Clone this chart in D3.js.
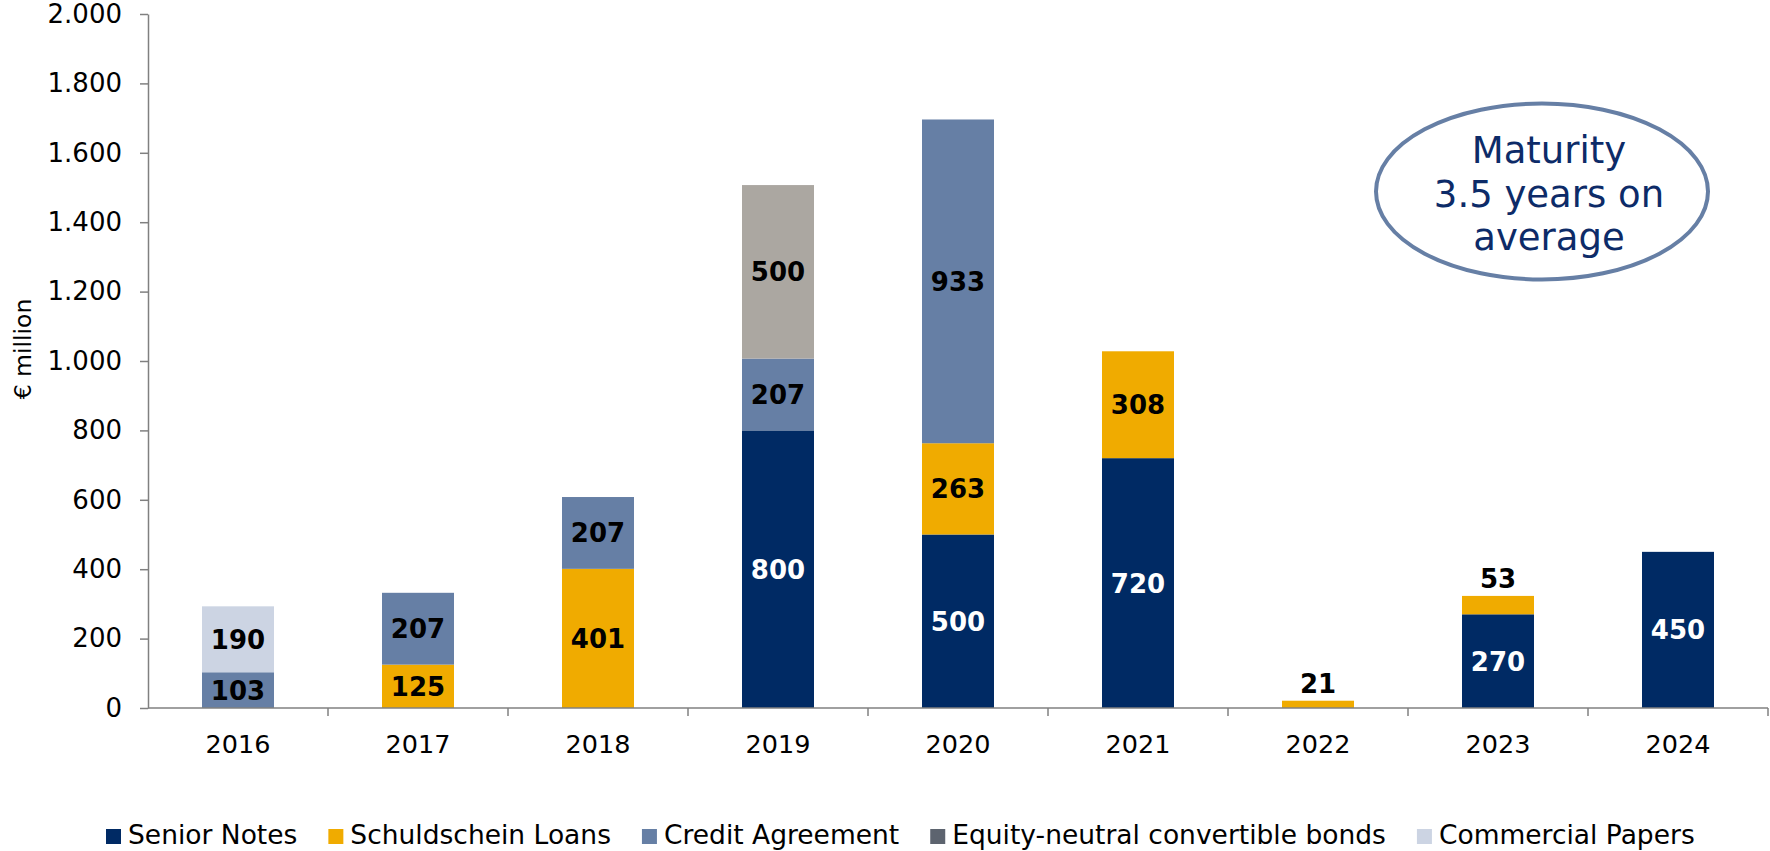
<!DOCTYPE html>
<html>
<head>
<meta charset="utf-8">
<script src="https://cdn.jsdelivr.net/npm/d3@7"></script>
<style>
  html, body { margin: 0; padding: 0; background: #fff; }
  svg { display: block; }
  text { font-family: "DejaVu Sans", Verdana, sans-serif; }
</style>
</head>
<body>
<svg id="chart" width="1770" height="851"></svg>
<script>
// Maturity profile, € million
const years = ["2016", "2017", "2018", "2019", "2020", "2021", "2022", "2023", "2024"];
const seriesNames = ["Senior Notes", "Schuldschein Loans", "Credit Agreement",
                     "Equity-neutral convertible bonds", "Commercial Papers"];
const seniorNotes      = [0,   0,   0,   800, 500, 720, 0,  270, 450];
const schuldschein     = [0,   125, 401, 0,   263, 308, 21, 53,  0];
const creditAgreement  = [103, 207, 207, 207, 933, 0,   0,  0,   0];
const convertibleBonds = [0,   0,   0,   500, 0,   0,   0,  0,   0];
const commercialPapers = [190, 0,   0,   0,   0,   0,   0,  0,   0];
const yTicks = [0, 200, 400, 600, 800, 1000, 1200, 1400, 1600, 1800, 2000];

const barColors    = ["#002a64", "#f0ab00", "#667fa5", "#aba7a1", "#ccd4e3"];
const legendColors = ["#002a64", "#f0ab00", "#667fa5", "#5d646f", "#ccd4e3"];
const labelColors  = ["#ffffff", "#000000", "#000000", "#000000", "#000000"];

const seriesValues = [seniorNotes, schuldschein, creditAgreement, convertibleBonds, commercialPapers];
const keys = seriesNames;
const rows = years.map((yr, i) => {
  const r = { year: yr };
  keys.forEach((k, s) => { r[k] = seriesValues[s][i]; });
  return r;
});

const svg = d3.select("#chart");
const plotLeft = 148, plotRight = 1768, plotTop = 14, plotBottom = 708;

const x = d3.scaleBand().domain(years).range([plotLeft, plotRight]).paddingInner(0.6).paddingOuter(0.3);
const y = d3.scaleLinear().domain([0, 2000]).range([plotBottom, plotTop]);

const stacked = d3.stack().keys(keys)(rows);

// Bars
const g = svg.append("g");
stacked.forEach((layer, s) => {
  g.selectAll(null)
    .data(layer.filter(d => d[1] - d[0] > 0))
    .join("rect")
    .attr("x", d => x(d.data.year))
    .attr("width", x.bandwidth())
    .attr("y", d => y(d[1]))
    .attr("height", d => y(d[0]) - y(d[1]))
    .attr("fill", barColors[s]);
});

// Value labels: centred in the segment, or just above it when the segment is thin
stacked.forEach((layer, s) => {
  g.selectAll(null)
    .data(layer.filter(d => d[1] - d[0] > 0))
    .join("text")
    .attr("x", d => x(d.data.year) + x.bandwidth() / 2)
    .attr("y", d => {
      const h = y(d[0]) - y(d[1]);
      return h < 30 ? y(d[1]) - 8 : (y(d[0]) + y(d[1])) / 2 + 9.5;
    })
    .attr("text-anchor", "middle")
    .attr("font-size", 26)
    .attr("font-weight", "bold")
    .attr("fill", d => (y(d[0]) - y(d[1]) < 30 ? "#000000" : labelColors[s]))
    .text(d => d[1] - d[0]);
});

// Y axis
const fmt = d3.formatLocale({ decimal: ",", thousands: ".", grouping: [3], currency: ["€", ""] }).format(",d");
const yAxis = svg.append("g")
  .attr("transform", `translate(${plotLeft},0)`)
  .call(d3.axisLeft(y).tickValues(yTicks).tickSize(8).tickSizeOuter(0).tickPadding(18).tickFormat(fmt));
yAxis.select(".domain").attr("stroke", "#808080").attr("stroke-width", 1.5);
yAxis.selectAll(".tick line").attr("stroke", "#808080").attr("stroke-width", 1.5);
yAxis.selectAll(".tick text")
  .attr("font-family", "'DejaVu Sans', Verdana, sans-serif")
  .attr("font-size", 26)
  .attr("fill", "#000");

// X axis: baseline, ticks between the categories, year labels
const xAxis = svg.append("g").attr("transform", `translate(0,${plotBottom})`);
xAxis.append("line")
  .attr("x1", plotLeft).attr("x2", plotRight).attr("y1", 0).attr("y2", 0)
  .attr("stroke", "#808080").attr("stroke-width", 1.5);
const gapHalf = (x.step() - x.bandwidth()) / 2;
xAxis.selectAll(".xtick")
  .data(years)
  .join("line")
  .attr("x1", d => x(d) + x.bandwidth() + gapHalf)
  .attr("x2", d => x(d) + x.bandwidth() + gapHalf)
  .attr("y1", 0).attr("y2", 8)
  .attr("stroke", "#808080").attr("stroke-width", 1.5);
xAxis.selectAll(".xlabel")
  .data(years)
  .join("text")
  .attr("x", d => x(d) + x.bandwidth() / 2)
  .attr("y", 45)
  .attr("text-anchor", "middle")
  .attr("font-size", 25.5)
  .attr("fill", "#000")
  .text(d => d);

// Y axis title
svg.append("text")
  .attr("transform", "translate(31,349) rotate(-90)")
  .attr("text-anchor", "middle")
  .attr("font-family", "'Liberation Sans', Arial, sans-serif")
  .attr("font-size", 23.5)
  .attr("fill", "#000")
  .text("€ million");

// Callout
const callout = svg.append("g");
callout.append("ellipse")
  .attr("cx", 1542).attr("cy", 191.5).attr("rx", 166).attr("ry", 88)
  .attr("fill", "#fff").attr("stroke", "#667fa5").attr("stroke-width", 4);
const calloutLines = ["Maturity", "3.5 years on", "average"];
callout.selectAll("text")
  .data(calloutLines)
  .join("text")
  .attr("x", 1549)
  .attr("y", (d, i) => 163 + i * 43.5)
  .attr("text-anchor", "middle")
  .attr("font-size", 37)
  .attr("fill", "#0d2b68")
  .text(d => d);

// Legend
const legend = svg.append("g");
let lx = 106;
seriesNames.forEach((name, s) => {
  legend.append("rect")
    .attr("x", lx).attr("y", 829).attr("width", 15).attr("height", 15)
    .attr("fill", legendColors[s]);
  const t = legend.append("text")
    .attr("x", lx + 22).attr("y", 844)
    .attr("font-size", 26.5)
    .attr("fill", "#000")
    .text(name);
  lx += 22 + t.node().getComputedTextLength() + 31;
});
</script>
</body>
</html>
